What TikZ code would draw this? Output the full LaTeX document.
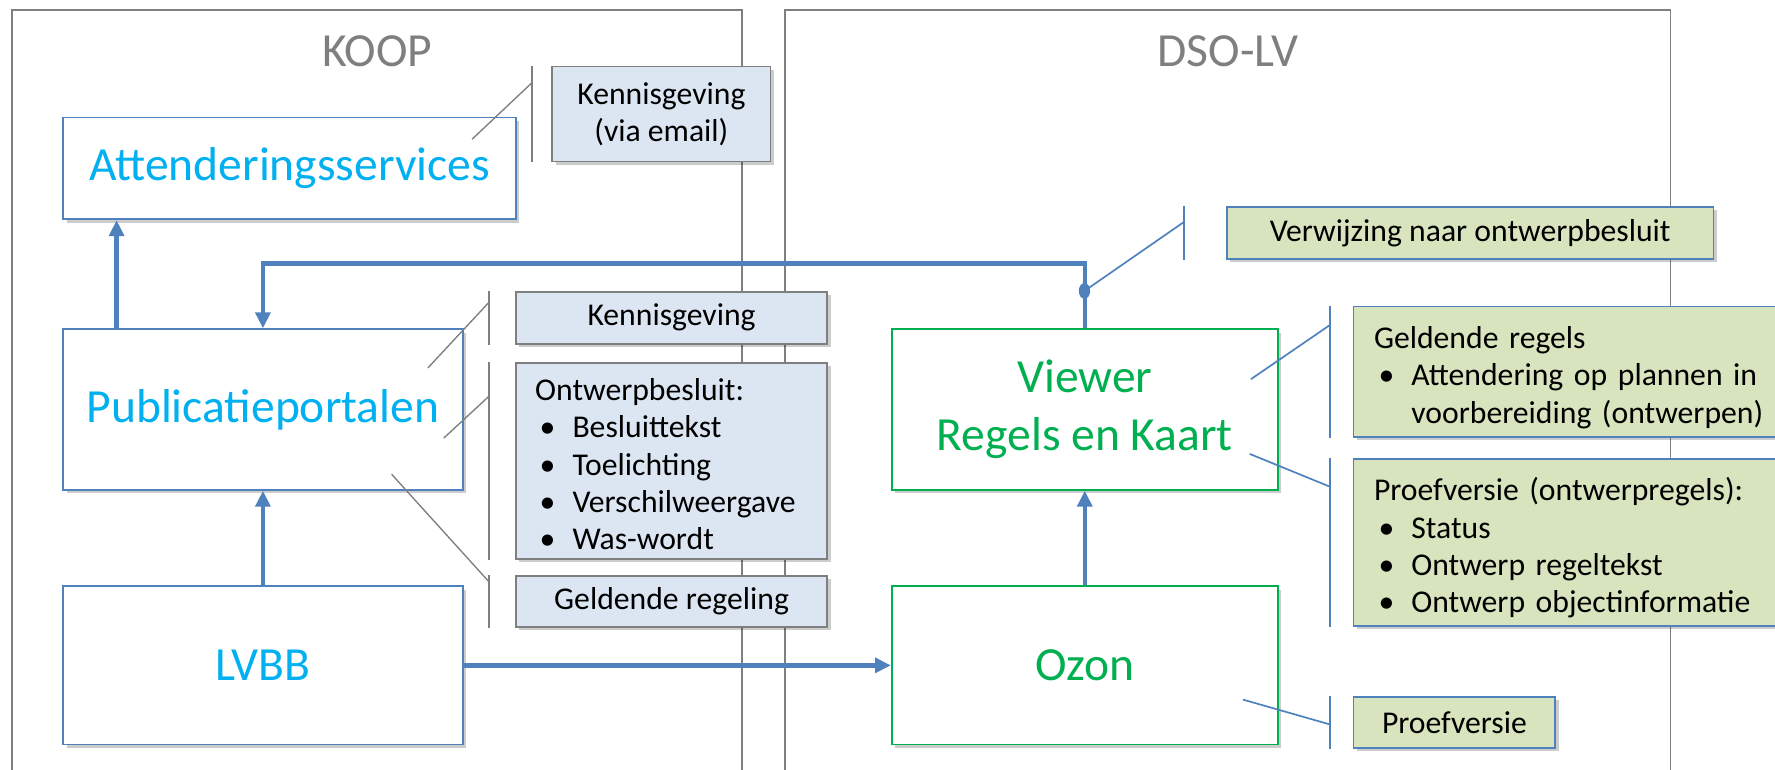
\documentclass[tikz,border=0pt]{standalone}
\usepackage{fontspec}
\setmainfont{Carlito}
\usetikzlibrary{arrows.meta,shadows}
\definecolor{kaderGrijs}{HTML}{7F7F7F}
\definecolor{koopBlauw}{HTML}{00B0F0}
\definecolor{dsoGroen}{HTML}{00B050}
\definecolor{lijnBlauw}{HTML}{4F81BD}
\definecolor{vulBlauw}{HTML}{DCE6F2}
\definecolor{vulGroen}{HTML}{D7E4BD}
\newcommand{\groot}{\fontsize{42bp}{51bp}\selectfont}
\newcommand{\klein}{\fontsize{28bp}{33bp}\selectfont}
\newcommand{\opsom}{\makebox[33bp][l]{\hspace{4bp}\textbullet}}
\newcommand{\lijst}[2][0bp]{\raisebox{-#1}[\height][\depth]{\begin{tabular}{@{}l@{}}#2\end{tabular}}}
\tikzset{
  schaduw/.style={drop shadow={shadow xshift=3bp,shadow yshift=-3bp,opacity=0.2,fill=black}},
  kader/.style={draw=kaderGrijs, line width=1.3bp, inner sep=0pt},
  titel/.style={text=kaderGrijs, font=\groot},
  koopblok/.style={draw=lijnBlauw, line width=1.5bp, fill=white, text=koopBlauw, font=\groot, align=center, inner sep=0pt, anchor=north west, schaduw},
  dsoblok/.style={koopblok, draw=dsoGroen, text=dsoGroen},
  notitie/.style={draw=kaderGrijs, line width=1.5bp, fill=vulBlauw, font=\klein, align=center, inner sep=0pt, anchor=north west, schaduw},
  groennotitie/.style={notitie, draw=lijnBlauw, fill=vulGroen},
  stroom/.style={draw=lijnBlauw, line width=4bp, -{Triangle[length=14bp,width=13bp]}},
  balk/.style={draw=kaderGrijs, line width=1.2bp},
  groenbalk/.style={draw=lijnBlauw, line width=1.5bp},
}
\begin{document}
\begin{tikzpicture}[x=1bp, y=-1bp]
\useasboundingbox (0,0) rectangle (1568,680);

% organisaties
\node[kader, minimum width=645bp, minimum height=720bp, anchor=north west] (koop) at (10,8) {};
\node[kader, minimum width=782bp, minimum height=720bp, anchor=north west] (dso) at (693,8) {};
\node[titel] (koopTitel) at ([yshift=-37bp]koop.north) {KOOP};
\node[titel] (dsoTitel) at ([yshift=-37bp]dso.north) {DSO-LV};

% systemen
\node[koopblok, minimum width=400bp, minimum height=90bp] (atten) at (55,103) {Attenderingsservices};
\node[koopblok, minimum width=353bp, minimum height=142bp] (publ) at (55,290) {Publicatieportalen};
\node[koopblok, minimum width=353bp, minimum height=140bp] (lvbb) at (55,517) {LVBB};
\node[dsoblok, minimum width=341bp, minimum height=142bp] (viewer) at (787,290) {Viewer\\Regels en Kaart};
\node[dsoblok, minimum width=341bp, minimum height=140bp] (ozon) at (787,517) {Ozon};

% stromen
\draw[stroom] ([xshift=48bp]publ.north west) -- ([xshift=48bp]atten.south west);
\draw[stroom] (lvbb.north) -- (publ.south);
\draw[stroom] (lvbb.east) -- (ozon.west);
\draw[stroom] (ozon.north) -- (viewer.south);
\draw[stroom] (viewer.north) -- ++(0,-57) -| (publ.north);

% toelichtingen KOOP
\node[notitie, minimum width=193bp, minimum height=84bp] (kennisMail) at (487,58) {Kennisgeving\\(via email)};
\node[notitie, minimum width=275bp, minimum height=46bp] (kennis) at (455,257) {Kennisgeving};
\node[notitie, minimum height=173bp, inner xsep=17bp, text width=241bp, align=left] (ontwerp) at (455,320)
  {\lijst[6bp]{Ontwerpbesluit:\\\opsom Besluittekst\\\opsom Toelichting\\\opsom Verschilweergave\\\opsom Was-wordt}};
\node[notitie, minimum width=275bp, minimum height=45bp] (regeling) at (455,508) {Geldende regeling};

\coordinate (attenPunt) at (417,123);
\coordinate (publPuntA) at (378,325);
\coordinate (publPuntB) at (392,387);
\coordinate (publPuntC) at (346,419);
\draw[balk] ([xshift=-17bp]kennisMail.north west) -- ([xshift=-17bp]kennisMail.south west);
\draw[balk] ([xshift=-17bp,yshift=-15bp]kennisMail.north west) -- (attenPunt);
\draw[balk] ([xshift=-23bp]kennis.north west) -- ([xshift=-23bp]kennis.south west);
\draw[balk] ([xshift=-23bp,yshift=-10bp]kennis.north west) -- (publPuntA);
\draw[balk] ([xshift=-23bp]ontwerp.north west) -- ([xshift=-23bp]ontwerp.south west);
\draw[balk] ([xshift=-23bp,yshift=-30bp]ontwerp.north west) -- (publPuntB);
\draw[balk] ([xshift=-23bp]regeling.north west) -- ([xshift=-23bp]regeling.south west);
\draw[balk] ([xshift=-23bp,yshift=-6bp]regeling.north west) -- (publPuntC);

% toelichtingen DSO-LV
\node[groennotitie, minimum width=430bp, minimum height=46bp] (verwijzing) at (1083,182) {Verwijzing naar ontwerpbesluit};
\node[groennotitie, minimum height=115bp, inner xsep=18bp, text width=344bp, align=left] (regels) at (1195,270)
  {\lijst[6bp]{Geldende regels\\\opsom Attendering op plannen in\\\hspace*{33bp}voorbereiding (ontwerpen)}};
\node[groennotitie, minimum height=147bp, inner xsep=18bp, text width=344bp, align=left] (proef) at (1195,405)
  {\lijst[6bp]{Proefversie (ontwerpregels):\\\opsom Status\\\opsom Ontwerp regeltekst\\\opsom Ontwerp objectinformatie}};
\node[groennotitie, minimum width=178bp, minimum height=45bp] (proefKort) at (1195,615) {Proefversie};

\coordinate (stroomPunt) at (958,257);
\coordinate (viewerPuntA) at (1105,335);
\coordinate (viewerPuntB) at (1104,401);
\coordinate (ozonPunt) at (1098,618);
\draw[groenbalk] ([xshift=-37bp]verwijzing.north west) -- ([xshift=-37bp]verwijzing.south west);
\draw[groenbalk] ([xshift=-37bp,yshift=-14bp]verwijzing.north west) -- (stroomPunt);
\fill[lijnBlauw] (stroomPunt) ellipse (5bp and 7bp);
\draw[groenbalk] ([xshift=-20bp]regels.north west) -- ([xshift=-20bp]regels.south west);
\draw[groenbalk] ([xshift=-20bp,yshift=-17bp]regels.north west) -- (viewerPuntA);
\draw[groenbalk] ([xshift=-20bp]proef.north west) -- ([xshift=-20bp]proef.south west);
\draw[groenbalk] ([xshift=-20bp,yshift=-25bp]proef.north west) -- (viewerPuntB);
\draw[groenbalk] ([xshift=-20bp]proefKort.north west) -- ([xshift=-20bp]proefKort.south west);
\draw[groenbalk] ([xshift=-20bp,yshift=-25bp]proefKort.north west) -- (ozonPunt);

\end{tikzpicture}
\end{document}
